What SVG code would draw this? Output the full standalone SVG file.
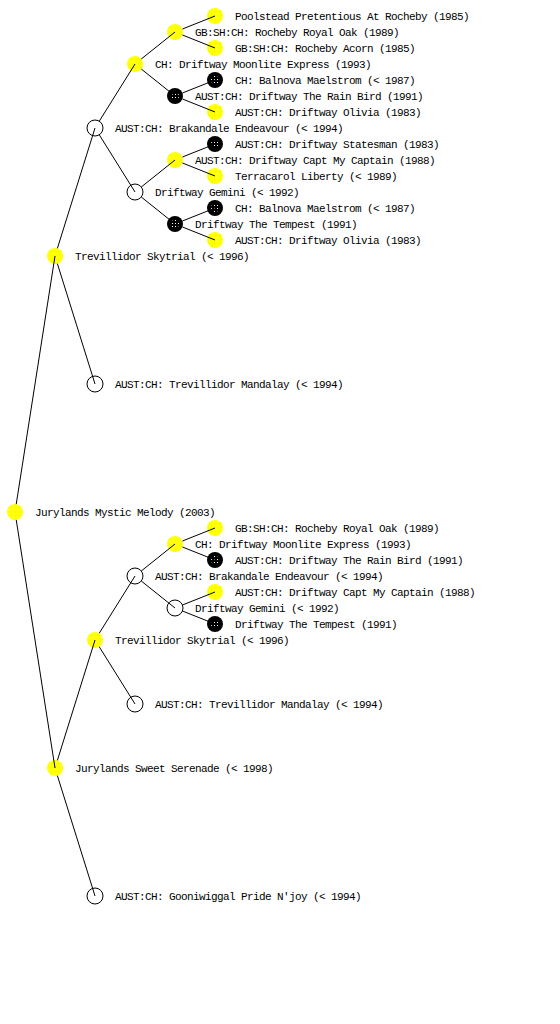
<svg xmlns="http://www.w3.org/2000/svg" width="560" height="1024" viewBox="0 0 560 1024">
<defs>
<pattern id="pY" patternUnits="userSpaceOnUse" width="4" height="4"><rect width="4" height="4" fill="#ffff00"/><rect x="1" y="1" width="1" height="1" fill="#ffffa0"/></pattern>
<pattern id="pB" patternUnits="userSpaceOnUse" width="3" height="3"><rect width="3" height="3" fill="#000"/><rect x="1" y="1" width="1" height="1" fill="#fff"/></pattern>
</defs>
<style>
.t{font-family:"Liberation Mono","DejaVu Sans Mono",monospace;font-size:11px;letter-spacing:-0.6px;fill:#000}
.y{fill:url(#pY);stroke:none}
.b{fill:#000;stroke:none}
.bi{fill:url(#pB);stroke:none}
.w{fill:#fff;stroke:#000;stroke-width:1}
#edges line{stroke:#000;stroke-width:1}
</style>
<rect width="560" height="1024" fill="#fff"/>
<g id="n1"><circle class="y" cx="215" cy="16" r="8"/><text class="t" x="235" y="20">Poolstead Pretentious At Rocheby (1985)</text></g>
<g id="n2"><circle class="y" cx="175" cy="32" r="8"/><text class="t" x="195" y="36">GB:SH:CH: Rocheby Royal Oak (1989)</text></g>
<g id="n3"><circle class="y" cx="215" cy="48" r="8"/><text class="t" x="235" y="52">GB:SH:CH: Rocheby Acorn (1985)</text></g>
<g id="n4"><circle class="y" cx="135" cy="64" r="8"/><text class="t" x="155" y="68">CH: Driftway Moonlite Express (1993)</text></g>
<g id="n5"><circle class="b" cx="215" cy="80" r="8"/><circle class="bi" cx="215" cy="80" r="4"/><text class="t" x="235" y="84">CH: Balnova Maelstrom (&lt; 1987)</text></g>
<g id="n6"><circle class="b" cx="175" cy="96" r="8"/><circle class="bi" cx="175" cy="96" r="4"/><text class="t" x="195" y="100">AUST:CH: Driftway The Rain Bird (1991)</text></g>
<g id="n7"><circle class="y" cx="215" cy="112" r="8"/><text class="t" x="235" y="116">AUST:CH: Driftway Olivia (1983)</text></g>
<g id="n8"><circle class="w" cx="95" cy="128" r="8"/><text class="t" x="115" y="132">AUST:CH: Brakandale Endeavour (&lt; 1994)</text></g>
<g id="n9"><circle class="b" cx="215" cy="144" r="8"/><circle class="bi" cx="215" cy="144" r="4"/><text class="t" x="235" y="148">AUST:CH: Driftway Statesman (1983)</text></g>
<g id="n10"><circle class="y" cx="175" cy="160" r="8"/><text class="t" x="195" y="164">AUST:CH: Driftway Capt My Captain (1988)</text></g>
<g id="n11"><circle class="y" cx="215" cy="176" r="8"/><text class="t" x="235" y="180">Terracarol Liberty (&lt; 1989)</text></g>
<g id="n12"><circle class="w" cx="135" cy="192" r="8"/><text class="t" x="155" y="196">Driftway Gemini (&lt; 1992)</text></g>
<g id="n13"><circle class="b" cx="215" cy="208" r="8"/><circle class="bi" cx="215" cy="208" r="4"/><text class="t" x="235" y="212">CH: Balnova Maelstrom (&lt; 1987)</text></g>
<g id="n14"><circle class="b" cx="175" cy="224" r="8"/><circle class="bi" cx="175" cy="224" r="4"/><text class="t" x="195" y="228">Driftway The Tempest (1991)</text></g>
<g id="n15"><circle class="y" cx="215" cy="240" r="8"/><text class="t" x="235" y="244">AUST:CH: Driftway Olivia (1983)</text></g>
<g id="n16"><circle class="y" cx="55" cy="256" r="8"/><text class="t" x="75" y="260">Trevillidor Skytrial (&lt; 1996)</text></g>
<g id="n17"><circle class="w" cx="95" cy="384" r="8"/><text class="t" x="115" y="388">AUST:CH: Trevillidor Mandalay (&lt; 1994)</text></g>
<g id="n18"><circle class="y" cx="15" cy="512" r="8"/><text class="t" x="35" y="516">Jurylands Mystic Melody (2003)</text></g>
<g id="n19"><circle class="y" cx="215" cy="528" r="8"/><text class="t" x="235" y="532">GB:SH:CH: Rocheby Royal Oak (1989)</text></g>
<g id="n20"><circle class="y" cx="175" cy="544" r="8"/><text class="t" x="195" y="548">CH: Driftway Moonlite Express (1993)</text></g>
<g id="n21"><circle class="b" cx="215" cy="560" r="8"/><circle class="bi" cx="215" cy="560" r="4"/><text class="t" x="235" y="564">AUST:CH: Driftway The Rain Bird (1991)</text></g>
<g id="n22"><circle class="w" cx="135" cy="576" r="8"/><text class="t" x="155" y="580">AUST:CH: Brakandale Endeavour (&lt; 1994)</text></g>
<g id="n23"><circle class="y" cx="215" cy="592" r="8"/><text class="t" x="235" y="596">AUST:CH: Driftway Capt My Captain (1988)</text></g>
<g id="n24"><circle class="w" cx="175" cy="608" r="8"/><text class="t" x="195" y="612">Driftway Gemini (&lt; 1992)</text></g>
<g id="n25"><circle class="b" cx="215" cy="624" r="8"/><circle class="bi" cx="215" cy="624" r="4"/><text class="t" x="235" y="628">Driftway The Tempest (1991)</text></g>
<g id="n26"><circle class="y" cx="95" cy="640" r="8"/><text class="t" x="115" y="644">Trevillidor Skytrial (&lt; 1996)</text></g>
<g id="n27"><circle class="w" cx="135" cy="704" r="8"/><text class="t" x="155" y="708">AUST:CH: Trevillidor Mandalay (&lt; 1994)</text></g>
<g id="n28"><circle class="y" cx="55" cy="768" r="8"/><text class="t" x="75" y="772">Jurylands Sweet Serenade (&lt; 1998)</text></g>
<g id="n29"><circle class="w" cx="95" cy="896" r="8"/><text class="t" x="115" y="900">AUST:CH: Gooniwiggal Pride N'joy (&lt; 1994)</text></g>
<g id="edges">
<line x1="16.24" y1="504.1" x2="55" y2="256"/>
<line x1="16.24" y1="519.9" x2="55" y2="768"/>
<line x1="57.39" y1="248.36" x2="95" y2="128"/>
<line x1="57.39" y1="263.64" x2="95" y2="384"/>
<line x1="57.39" y1="760.36" x2="95" y2="640"/>
<line x1="57.39" y1="775.64" x2="95" y2="896"/>
<line x1="99.24" y1="121.22" x2="135" y2="64"/>
<line x1="99.24" y1="134.78" x2="135" y2="192"/>
<line x1="99.24" y1="633.22" x2="135" y2="576"/>
<line x1="99.24" y1="646.78" x2="135" y2="704"/>
<line x1="141.25" y1="59" x2="175" y2="32"/>
<line x1="141.25" y1="69" x2="175" y2="96"/>
<line x1="141.25" y1="187" x2="175" y2="160"/>
<line x1="141.25" y1="197" x2="175" y2="224"/>
<line x1="141.25" y1="571" x2="175" y2="544"/>
<line x1="141.25" y1="581" x2="175" y2="608"/>
<line x1="182.43" y1="29.03" x2="215" y2="16"/>
<line x1="182.43" y1="34.97" x2="215" y2="48"/>
<line x1="182.43" y1="93.03" x2="215" y2="80"/>
<line x1="182.43" y1="98.97" x2="215" y2="112"/>
<line x1="182.43" y1="157.03" x2="215" y2="144"/>
<line x1="182.43" y1="162.97" x2="215" y2="176"/>
<line x1="182.43" y1="221.03" x2="215" y2="208"/>
<line x1="182.43" y1="226.97" x2="215" y2="240"/>
<line x1="182.43" y1="541.03" x2="215" y2="528"/>
<line x1="182.43" y1="546.97" x2="215" y2="560"/>
<line x1="182.43" y1="605.03" x2="215" y2="592"/>
<line x1="182.43" y1="610.97" x2="215" y2="624"/>
</g>
</svg>
